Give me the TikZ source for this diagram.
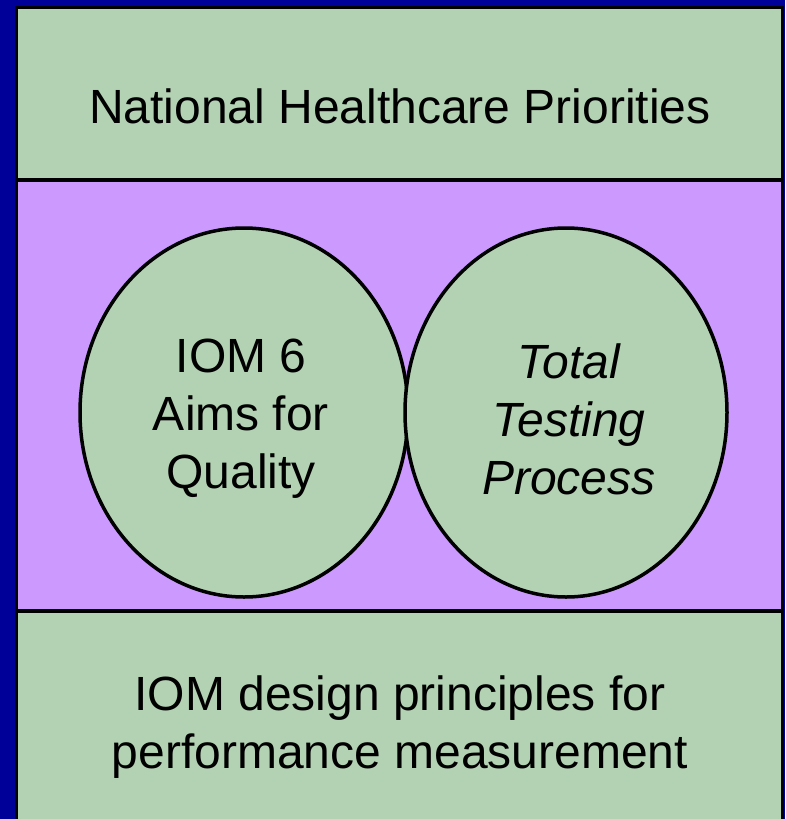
\documentclass[tikz,border=0pt]{standalone}
\usepackage{fontspec}
\setmainfont{Liberation Sans}
\definecolor{navy}{RGB}{0,0,153}
\definecolor{band}{RGB}{179,209,179}
\definecolor{lilac}{RGB}{204,153,255}
\begin{document}
\begin{tikzpicture}[x=1pt,y=-1pt,
  bandbox/.style={draw=black,line width=3.5pt},
  oval/.style={draw=black,line width=3.5pt,fill=band},
  label/.style={font=\fontsize{48}{58}\selectfont,align=center,text=black}]
\fill[navy] (0,0) rectangle (785,819);
\useasboundingbox (0,0) rectangle (785,819);
\fill[band] (16.5,7.5) rectangle (782.5,830);
\fill[lilac] (16.5,180) rectangle (782.5,611);
\draw[bandbox] (16.5,830) -- (16.5,7.5) -- (782.5,7.5) -- (782.5,830);
\draw[bandbox] (16.5,180) -- (782.5,180);
\draw[bandbox] (16.5,611) -- (782.5,611);
\draw[oval] (244,412.5) ellipse [x radius=164, y radius=184.5];
\draw[oval] (566,412.5) ellipse [x radius=161, y radius=184.5];
\node[label] (top) at (400,106) {National Healthcare Priorities};
\node[label] (aims) at (241,419) {IOM 6\\Aims for\\Quality};
\node[label,font=\fontsize{48}{58}\selectfont\itshape] (ttp) at (569,419) {Total\\Testing\\Process};
\node[label] (bottom) at (400,727) {IOM design principles for\\performance measurement};
\end{tikzpicture}
\end{document}
